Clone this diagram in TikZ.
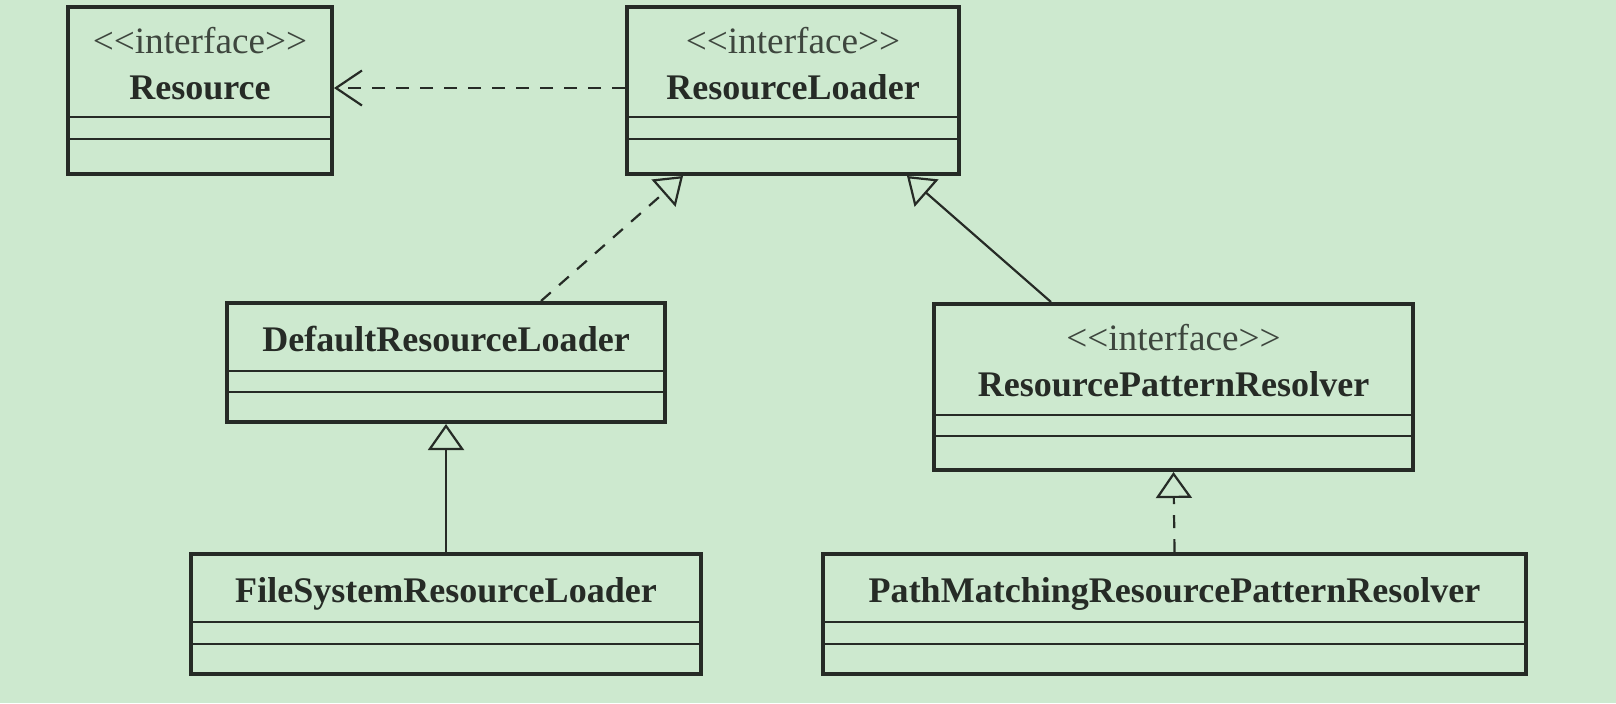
\documentclass[tikz,border=0pt]{standalone}
\usepackage{fontspec}
\setmainfont{Liberation Serif}
\usetikzlibrary{arrows.meta}
\definecolor{bg}{RGB}{205,233,207}
\definecolor{ink}{RGB}{38,43,38}
\definecolor{ink2}{RGB}{62,70,62}
\newcommand{\ifacetext}{<\kern0pt<interface>\kern0pt>}
\begin{document}
\begin{tikzpicture}[x=0.1mm,y=-0.1mm,
  cls/.style={draw=ink,line width=0.4mm,inner sep=0pt,outer sep=0.2mm,fill=none},
  sepline/.style={draw=ink,line width=0.2mm},
  cname/.style={anchor=base,inner sep=0pt,text=ink,font=\fontsize{10.25}{12}\selectfont\bfseries},
  stereo/.style={anchor=base,inner sep=0pt,text=ink2,font=\fontsize{10.6}{12}\selectfont},
  conn/.style={draw=ink,line width=0.22mm},
  dashline/.style={dash pattern=on 1.3mm off 1.1mm},
  realize/.style={-{Triangle[open,length=2.6mm,width=3.6mm]}},
  dep/.style={-{Straight Barb[length=2.6mm,width=3.5mm]}}]

\fill[bg] (0,0) rectangle (1616,703);
\useasboundingbox (0,0) rectangle (1616,703);

% class boxes
\node[cls,minimum width=26.4mm,minimum height=16.7mm] (res) at (200,90.5) {};
\node[cls,minimum width=33.2mm,minimum height=16.7mm] (rl) at (793,90.5) {};
\node[cls,minimum width=43.8mm,minimum height=11.9mm] (drl) at (446,362.5) {};
\node[cls,minimum width=47.9mm,minimum height=16.6mm] (rpr) at (1173.5,387) {};
\node[cls,minimum width=51.0mm,minimum height=12.0mm] (fsrl) at (446,614) {};
\node[cls,minimum width=70.3mm,minimum height=12.0mm] (pm) at (1174.5,614) {};

% compartment separators
\draw[sepline] (res.west |- 0,117) -- (res.east |- 0,117);
\draw[sepline] (res.west |- 0,139) -- (res.east |- 0,139);
\draw[sepline] (rl.west |- 0,117) -- (rl.east |- 0,117);
\draw[sepline] (rl.west |- 0,139) -- (rl.east |- 0,139);
\draw[sepline] (drl.west |- 0,371) -- (drl.east |- 0,371);
\draw[sepline] (drl.west |- 0,392) -- (drl.east |- 0,392);
\draw[sepline] (rpr.west |- 0,415) -- (rpr.east |- 0,415);
\draw[sepline] (rpr.west |- 0,436) -- (rpr.east |- 0,436);
\draw[sepline] (fsrl.west |- 0,622) -- (fsrl.east |- 0,622);
\draw[sepline] (fsrl.west |- 0,644) -- (fsrl.east |- 0,644);
\draw[sepline] (pm.west |- 0,622) -- (pm.east |- 0,622);
\draw[sepline] (pm.west |- 0,644) -- (pm.east |- 0,644);

% texts
\node[stereo] (resS) at (200,53) {\ifacetext};
\node[cname] (resN) at (200,99) {Resource};
\node[stereo] (rlS) at (793,53) {\ifacetext};
\node[cname] (rlN) at (793,99) {ResourceLoader};
\node[cname] (drlN) at (446,351) {DefaultResourceLoader};
\node[stereo] (rprS) at (1173.5,350) {\ifacetext};
\node[cname] (rprN) at (1173.5,396) {ResourcePatternResolver};
\node[cname] (fsrlN) at (446,602) {FileSystemResourceLoader};
\node[cname] (pmN) at (1174.5,602) {PathMatchingResourcePatternResolver};

% connectors
\draw[conn,dashline,dep] ([yshift=0.25mm]rl.west) -- ([yshift=0.25mm]res.east);
\draw[conn,dashline,realize] ([xshift=9.5mm]drl.north) -- ([xshift=-11mm]rl.south);
\draw[conn,realize] ([xshift=-12.25mm]rpr.north) -- ([xshift=11.4mm]rl.south);
\draw[conn,realize] (fsrl.north) -- (drl.south);
\draw[conn,dashline,realize] (pm.north) -- (rpr.south);
\end{tikzpicture}
\end{document}
